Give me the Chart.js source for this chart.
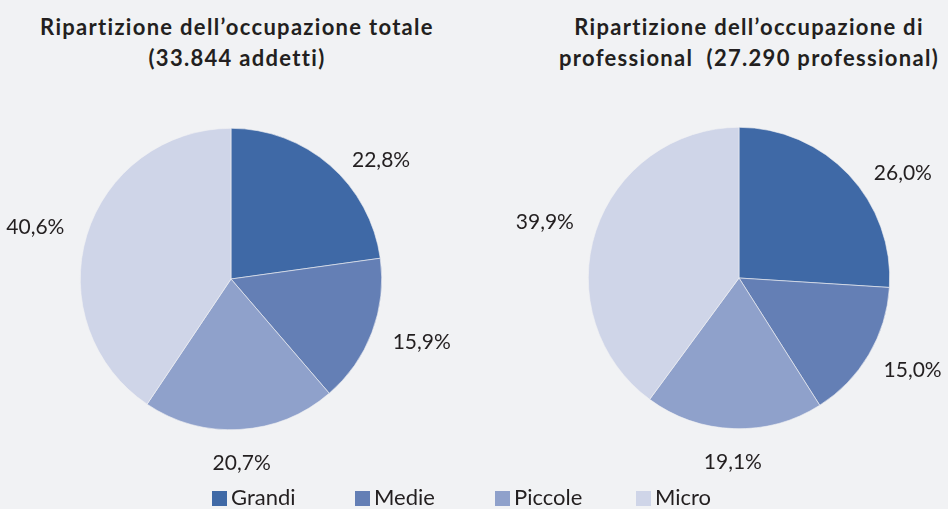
<!DOCTYPE html>
<html>
<head>
<meta charset="utf-8">
<script src="https://cdn.jsdelivr.net/npm/chart.js@4"></script>
<style>
  html, body { margin: 0; padding: 0; background: #f1f2f4; }
  body { width: 948px; height: 509px; position: relative; overflow: hidden; font-family: Lato, 'Open Sans', sans-serif; }
  .title { position: absolute; top: 11px; text-align: center; font-weight: 700; font-size: 22px; line-height: 31px; color: #231f20; letter-spacing: 1.3px; white-space: nowrap; }
  canvas { position: absolute; }
  .legend { position: absolute; top: 484px; left: 0; width: 948px; height: 25px; }
  .legend span { position: absolute; font-size: 22px; color: #231f20; line-height: 25px; white-space: nowrap; }
  .legend i { display: inline-block; width: 15px; height: 15px; margin-right: 4px; vertical-align: -1px; }
</style>
</head>
<body>
<canvas id="pieLeft"></canvas>
<canvas id="pieRight"></canvas>
<div class="title" id="titleLeft" style="left: 0; width: 474px;"></div>
<div class="title" id="titleRight" style="left: 510px; width: 478px;"></div>
<div class="legend" id="legend"></div>
<script>
const categories = ['Grandi', 'Medie', 'Piccole', 'Micro'];
const totalShares = [22.8, 15.9, 20.7, 40.6];
const professionalShares = [26.0, 15.0, 19.1, 39.9];
const titleLeftLines = ['Ripartizione dell\u2019occupazione totale', '(33.844 addetti)'];
const titleRightLines = ['Ripartizione dell\u2019occupazione di', 'professional\u00a0 (27.290 professional)'];

const sliceColors = ['#3f69a6', '#647fb5', '#8fa1cb', '#cfd5e8'];
// small turn of the first label, like the original
const labelAngleShift = [0.14, 0, 0, 0];

document.getElementById('titleLeft').innerHTML = titleLeftLines.join('<br>');
document.getElementById('titleRight').innerHTML = titleRightLines.join('<br>');

const legendBox = document.getElementById('legend');
const legendX = [212, 355, 495, 636];
categories.forEach((name, i) => {
  const item = document.createElement('span');
  item.style.left = legendX[i] + 'px';
  item.innerHTML = `<i style="background:${sliceColors[i]}"></i>${name}`;
  legendBox.appendChild(item);
});

const outsideLabels = {
  id: 'outsideLabels',
  afterDatasetsDraw(chart) {
    const { ctx } = chart;
    const meta = chart.getDatasetMeta(0);
    const values = chart.data.datasets[0].data;
    ctx.save();
    ctx.fillStyle = '#231f20';
    ctx.font = '21px Lato, sans-serif';
    ctx.textAlign = 'center';
    ctx.textBaseline = 'middle';
    meta.data.forEach((arc, i) => {
      const { x, y, startAngle, endAngle, outerRadius } = arc.getProps(['x', 'y', 'startAngle', 'endAngle', 'outerRadius'], true);
      const mid = (startAngle + endAngle) / 2 + labelAngleShift[i];
      const text = values[i].toFixed(1).replace('.', ',') + '%';
      const halfW = ctx.measureText(text).width / 2;
      const halfH = 8;
      const gap = outerRadius + 26;
      const cx = x + Math.cos(mid) * (gap + Math.abs(Math.cos(mid)) * halfW);
      const cy = y + Math.sin(mid) * (gap + Math.abs(Math.sin(mid)) * halfH);
      ctx.fillText(text, cx, cy);
    });
    ctx.restore();
  },
};

function buildPie(canvas, values, box, padding) {
  canvas.style.left = box.left + 'px';
  canvas.style.top = box.top + 'px';
  canvas.width = box.width;
  canvas.height = box.height;
  canvas.style.width = box.width + 'px';
  canvas.style.height = box.height + 'px';
  return new Chart(canvas, {
    type: 'pie',
    data: {
      labels: categories,
      datasets: [{
        data: values,
        backgroundColor: sliceColors,
        borderColor: '#f1f2f4',
        borderWidth: 0.6,
      }],
    },
    options: {
      responsive: false,
      animation: false,
      layout: { padding },
      plugins: {
        legend: { display: false },
        tooltip: { enabled: false },
      },
    },
    plugins: [outsideLabels],
  });
}

buildPie(document.getElementById('pieLeft'), totalShares,
  { left: 0, top: 90, width: 474, height: 400 },
  { left: 80, right: 92, top: 38, bottom: 60 });
buildPie(document.getElementById('pieRight'), professionalShares,
  { left: 474, top: 90, width: 474, height: 400 },
  { left: 114, right: 58, top: 37, bottom: 61 });
</script>
</body>
</html>
